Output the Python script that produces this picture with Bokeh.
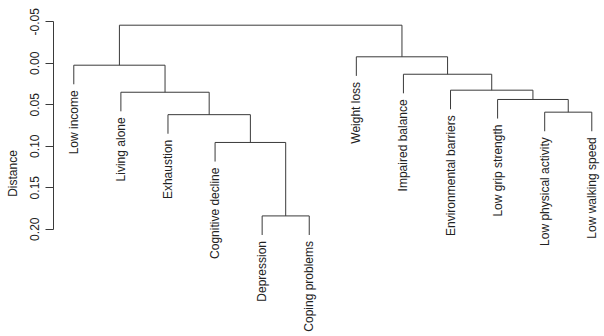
import math
from bokeh.plotting import figure
from bokeh.models import ColumnDataSource, Range1d, FixedTicker
from bokeh.core.properties import value
from bokeh.embed import file_html
from bokeh.resources import INLINE

# ---- data (hclust-style) ----
leaf_labels = ["Low income", "Living alone", "Exhaustion", "Cognitive decline",
               "Depression", "Coping problems", "Weight loss", "Impaired balance",
               "Environmental barriers", "Low grip strength", "Low physical activity",
               "Low walking speed"]
# negative = leaf index (1-based), positive = earlier merge (1-based)
merge_left = [-5, -4, -3, -2, -1, -11, -10, -9, -8, -7, 5]
merge_right = [-6, 1, 2, 3, 4, -12, 6, 7, 8, 9, 10]
merge_height = [0.184, 0.0955, 0.062, 0.035, 0.0024, 0.059, 0.0437, 0.0325, 0.0133, -0.0077, -0.0458]
leaf_hang = 0.023

y_ticks = [-0.05, 0.00, 0.05, 0.10, 0.15, 0.20]
y_tick_labels = ["-0.05", "0.00", "0.05", "0.10", "0.15", "0.20"]

# ---- geometry from data ----
leaf_x = {i + 1: float(i + 1) for i in range(len(leaf_labels))}
node_x = {}
x0, y0, x1, y1 = [], [], [], []
leaf_end = {}

def child_x(c):
    return leaf_x[-c] if c < 0 else node_x[c]

for k, (a, b, h) in enumerate(zip(merge_left, merge_right, merge_height), start=1):
    xa, xb = child_x(a), child_x(b)
    node_x[k] = (xa + xb) / 2.0
    x0.append(xa); y0.append(h); x1.append(xb); y1.append(h)
    for c, xc in ((a, xa), (b, xb)):
        if c < 0:
            ye = h + leaf_hang
            leaf_end[-c] = ye
        else:
            ye = merge_height[c - 1]
        x0.append(xc); y0.append(h); x1.append(xc); y1.append(ye)

seg = ColumnDataSource(dict(x0=x0, y0=y0, x1=x1, y1=y1))
lab = ColumnDataSource(dict(
    x=[leaf_x[i] for i in range(1, len(leaf_labels) + 1)],
    y=[leaf_end[i] for i in range(1, len(leaf_labels) + 1)],
    text=leaf_labels))

FONT = "Liberation Sans"
FS = "12px"
LINE = "#3a3a3a"

p = figure(width=604, height=336, output_backend="svg", toolbar_location=None,
           x_range=Range1d(0.569, 12.27), y_range=Range1d(0.3293, -0.0635),
           x_axis_location=None, min_border_left=53, min_border_right=0,
           min_border_top=10, min_border_bottom=0)
p.outline_line_color = None
p.grid.visible = False
p.background_fill_color = "white"

p.segment(x0="x0", y0="y0", x1="x1", y1="y1", source=seg, line_color=LINE, line_width=1)
p.text(x="x", y="y", text="text", source=lab, angle=math.pi / 2,
       text_align="right", text_baseline="middle", y_offset=6,
       text_font=value(FONT), text_font_size=FS, text_color="#222222")

ax = p.yaxis[0]
ax.ticker = FixedTicker(ticks=y_ticks)
ax.major_label_overrides = {t: s for t, s in zip(y_ticks, y_tick_labels)}
ax.bounds = (min(y_ticks), max(y_ticks))
ax.major_label_orientation = "vertical"
ax.major_tick_out = 8
ax.major_tick_in = 0
ax.minor_tick_line_color = None
ax.axis_line_color = LINE
ax.major_tick_line_color = LINE
ax.major_label_text_font = FONT
ax.major_label_text_font_size = FS
ax.major_label_text_color = "#222222"
ax.major_label_standoff = 6
ax.axis_label = "Distance"
ax.axis_label_text_font = FONT
ax.axis_label_text_font_size = FS
ax.axis_label_text_font_style = "normal"
ax.axis_label_text_color = "#222222"
ax.axis_label_standoff = 8

open("out.html", "w").write(file_html(p, INLINE))
